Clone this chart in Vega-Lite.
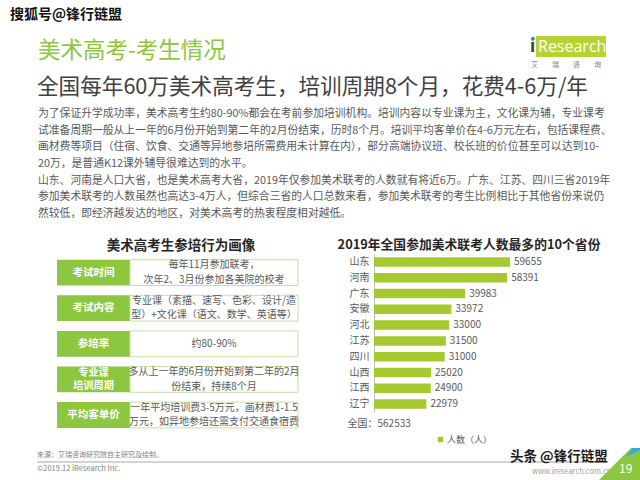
{
  "$schema": "https://vega.github.io/schema/vega-lite/v6.json",
  "background": "white",
  "padding": 0,
  "spacing": 0,
  "config": {
    "view": {"stroke": null},
    "font": "Noto Sans CJK SC",
    "text": {"font": "Noto Sans CJK SC"},
    "title": {"font": "Noto Sans CJK SC"},
    "axis": {"labelFont": "Noto Sans CJK SC", "titleFont": "Noto Sans CJK SC"},
    "legend": {"labelFont": "Noto Sans CJK SC"}
  },
  "vconcat": [
    {
      "width": 640,
      "height": 238,
      "data": {"values": [{}]},
      "layer": [
        {
          "mark": {"type": "text", "align": "left", "baseline": "middle", "fontSize": 14, "fontWeight": "bold", "color": "#111111"},
          "encoding": {
            "x": {"datum": 10, "type": "quantitative", "scale": {"domain": [0, 640], "nice": false, "zero": false}, "axis": null},
            "y": {"datum": 15, "type": "quantitative", "scale": {"domain": [0, 238], "nice": false, "zero": false, "reverse": true}, "axis": null},
            "text": {"value": "搜狐号@锋行链盟"}
          }
        },
        {
          "mark": {"type": "text", "align": "left", "baseline": "middle", "fontSize": 22.5, "color": "#8dc63f"},
          "encoding": {
            "x": {"datum": 38, "type": "quantitative"},
            "y": {"datum": 51, "type": "quantitative"},
            "text": {"value": "美术高考-考生情况"}
          }
        },
        {
          "mark": {"type": "text", "align": "left", "baseline": "middle", "fontSize": 21.6, "color": "#404040"},
          "encoding": {
            "x": {"datum": 37, "type": "quantitative"},
            "y": {"datum": 88, "type": "quantitative"},
            "text": {"value": "全国每年60万美术高考生，培训周期8个月，花费4-6万/年"}
          }
        },
        {
          "mark": {"type": "text", "align": "left", "baseline": "top", "fontSize": 10.8, "lineHeight": 16.68, "color": "#595959"},
          "encoding": {
            "x": {"datum": 38, "type": "quantitative"},
            "y": {"datum": 108, "type": "quantitative"},
            "text": {"value": [
              "为了保证升学成功率，美术高考生约80-90%都会在考前参加培训机构。培训内容以专业课为主，文化课为辅，专业课考",
              "试准备周期一般从上一年的6月份开始到第二年的2月份结束，历时8个月。培训平均客单价在4-6万元左右，包括课程费、",
              "画材费等项目（住宿、饮食、交通等异地参培所需费用未计算在内），部分高端协议班、校长班的价位甚至可以达到10-",
              "20万，是普通K12课外辅导很难达到的水平。",
              "山东、河南是人口大省，也是美术高考大省，2019年仅参加美术联考的人数就有将近6万。广东、江苏、四川三省2019年",
              "参加美术联考的人数虽然也高达3-4万人，但综合三省的人口总数来看，参加美术联考的考生比例相比于其他省份来说仍",
              "然较低，即经济越发达的地区，对美术高考的热衷程度相对越低。"
            ]}
          }
        },
        {
          "mark": {"type": "rect", "color": "#b5d334"},
          "encoding": {
            "x": {"datum": 536, "type": "quantitative"},
            "x2": {"datum": 606},
            "y": {"datum": 36, "type": "quantitative"},
            "y2": {"datum": 57}
          }
        },
        {
          "mark": {"type": "text", "align": "left", "baseline": "middle", "fontSize": 16, "font": "Open Sans", "color": "white"},
          "encoding": {
            "x": {"datum": 538, "type": "quantitative"},
            "y": {"datum": 47, "type": "quantitative"},
            "text": {"value": "Research"}
          }
        },
        {
          "mark": {"type": "text", "align": "left", "baseline": "middle", "fontSize": 17, "font": "Open Sans", "fontWeight": "bold", "color": "#3a3a3a"},
          "encoding": {
            "x": {"datum": 530, "type": "quantitative"},
            "y": {"datum": 47, "type": "quantitative"},
            "text": {"value": "i"}
          }
        },
        {
          "mark": {"type": "point", "filled": true, "size": 14, "color": "#2b8fd6", "opacity": 1},
          "encoding": {
            "x": {"datum": 533, "type": "quantitative"},
            "y": {"datum": 38.5, "type": "quantitative"}
          }
        },
        {
          "mark": {"type": "text", "align": "left", "baseline": "middle", "fontSize": 7, "color": "#808080"},
          "encoding": {
            "x": {"datum": 531, "type": "quantitative"},
            "y": {"datum": 64.5, "type": "quantitative"},
            "text": {"value": "艾　　瑞　　咨　　询"}
          }
        }
      ]
    },
    {
      "spacing": 37,
      "hconcat": [
        {
          "width": 300,
          "height": 193.4,
          "title": {"text": "美术高考生参培行为画像", "fontSize": 13.5, "fontWeight": "bold", "color": "#262626", "anchor": "middle", "dx": 31, "offset": 2},
          "data": {"values": [
            {"item": "考试时间", "desc": "每年11月参加联考，\n次年2、3月份参加各美院的校考"},
            {"item": "考试内容", "desc": "专业课（素描、速写、色彩、设计/造\n型）+文化课（语文、数学、英语等）"},
            {"item": "参培率", "desc": "约80-90%"},
            {"item": "专业课\n培训周期", "desc": "多从上一年的6月份开始到第二年的2月\n份结束，持续8个月"},
            {"item": "平均客单价", "desc": "一年平均培训费3-5万元，画材费1-1.5\n万元，如异地参培还需支付交通食宿费"}
          ]},
          "encoding": {
            "y": {"field": "item", "type": "nominal", "sort": null, "axis": null, "scale": {"paddingInner": 0.275, "paddingOuter": 0.354, "align": 0.226}}
          },
          "layer": [
            {
              "mark": {"type": "rect", "color": "#8dc63f"},
              "encoding": {
                "x": {"datum": 57, "type": "quantitative", "scale": {"domain": [0, 300], "nice": false, "zero": false}, "axis": null},
                "x2": {"datum": 130}
              }
            },
            {
              "mark": {"type": "rect", "fill": "white", "stroke": "#c6dfa6", "strokeWidth": 1},
              "encoding": {
                "x": {"datum": 130, "type": "quantitative"},
                "x2": {"datum": 298}
              }
            },
            {
              "transform": [{"filter": "indexof(datum.item, '\\n') < 0"}],
              "mark": {"type": "text", "color": "white", "fontWeight": "bold", "fontSize": 10.5},
              "encoding": {
                "x": {"datum": 93.5, "type": "quantitative"},
                "text": {"field": "item"}
              }
            },
            {
              "transform": [{"filter": "indexof(datum.item, '\\n') >= 0"}],
              "mark": {"type": "text", "color": "white", "fontWeight": "bold", "fontSize": 10.2, "lineBreak": "\n", "lineHeight": 13.5, "dy": -6.75},
              "encoding": {
                "x": {"datum": 93.5, "type": "quantitative"},
                "text": {"field": "item"}
              }
            },
            {
              "transform": [{"filter": "indexof(datum.desc, '\\n') < 0"}],
              "mark": {"type": "text", "color": "#595959", "fontSize": 10},
              "encoding": {
                "x": {"datum": 214, "type": "quantitative"},
                "text": {"field": "desc"}
              }
            },
            {
              "transform": [{"filter": "indexof(datum.desc, '\\n') >= 0"}],
              "mark": {"type": "text", "color": "#595959", "fontSize": 10, "lineBreak": "\n", "lineHeight": 14.5, "dy": -7.25},
              "encoding": {
                "x": {"datum": 214, "type": "quantitative"},
                "text": {"field": "desc"}
              }
            }
          ]
        },
        {
          "width": 228,
          "height": 158,
          "title": {"text": "2019年全国参加美术联考人数最多的10个省份", "fontSize": 12.8, "fontWeight": "bold", "color": "#262626", "anchor": "middle", "dx": -19, "offset": 2},
          "data": {"values": [
            {"province": "山东", "count": 59655},
            {"province": "河南", "count": 58391},
            {"province": "广东", "count": 39983},
            {"province": "安徽", "count": 33972},
            {"province": "河北", "count": 33000},
            {"province": "江苏", "count": 31500},
            {"province": "四川", "count": 31000},
            {"province": "山西", "count": 25020},
            {"province": "江西", "count": 24900},
            {"province": "辽宁", "count": 22979}
          ]},
          "encoding": {
            "y": {"field": "province", "type": "nominal", "sort": null, "scale": {"paddingInner": 0.4, "paddingOuter": 0.2},
                  "axis": {"title": null, "ticks": false, "labelFontSize": 10, "labelColor": "#595959", "labelPadding": 5, "domainColor": "#bfbfbf", "domainWidth": 1}},
            "x": {"field": "count", "type": "quantitative", "scale": {"domain": [0, 100000], "nice": false},
                  "axis": {"title": "全国：562533", "labels": false, "ticks": false, "domain": false, "grid": false, "titleAnchor": "start", "titleX": -27, "titleY": 11, "titleBaseline": "middle", "titleFontSize": 10, "titleFontWeight": "normal", "titleColor": "#595959"}}
          },
          "layer": [
            {
              "mark": {"type": "bar"},
              "encoding": {
                "color": {"datum": "人数（人）", "type": "nominal", "scale": {"range": ["#a6c932"]},
                          "legend": {"title": null, "orient": "none", "legendX": 436, "legendY": 435, "symbolType": "square", "symbolSize": 30, "labelFontSize": 9, "labelColor": "#595959", "labelOffset": 2}}
              }
            },
            {
              "mark": {"type": "text", "align": "left", "dx": 4, "fontSize": 10, "color": "#595959"},
              "encoding": {"text": {"field": "count", "type": "quantitative", "format": "d"}}
            }
          ]
        }
      ]
    },
    {
      "width": 640,
      "height": 33,
      "data": {"values": [{}]},
      "layer": [
        {
          "mark": {"type": "text", "align": "left", "baseline": "middle", "fontSize": 7, "color": "#7f7f7f"},
          "encoding": {
            "x": {"datum": 37, "type": "quantitative", "scale": {"domain": [0, 640], "nice": false, "zero": false}, "axis": null},
            "y": {"datum": 453.5, "type": "quantitative", "scale": {"domain": [447, 480], "nice": false, "zero": false, "reverse": true}, "axis": null},
            "text": {"value": "来源：艾瑞咨询研究院自主研究及绘制。"}
          }
        },
        {
          "mark": {"type": "rule", "color": "#a6a6a6", "strokeWidth": 1},
          "encoding": {
            "x": {"datum": 37, "type": "quantitative"},
            "x2": {"datum": 598},
            "y": {"datum": 461, "type": "quantitative"}
          }
        },
        {
          "mark": {"type": "text", "align": "left", "baseline": "middle", "fontSize": 7.5, "color": "#7f7f7f"},
          "encoding": {
            "x": {"datum": 37, "type": "quantitative"},
            "y": {"datum": 468, "type": "quantitative"},
            "text": {"value": "©2019.12 iResearch Inc."}
          }
        },
        {
          "mark": {"type": "text", "align": "left", "baseline": "middle", "fontSize": 7.5, "color": "#a0a0a0"},
          "encoding": {
            "x": {"datum": 532, "type": "quantitative"},
            "y": {"datum": 471, "type": "quantitative"},
            "text": {"value": "www.iresearch.com.cn"}
          }
        },
        {
          "mark": {"type": "point", "filled": true, "opacity": 1, "size": 1764, "shape": "M 1 -1 L 1 1 L -1 1 Z", "color": "#8dc63f", "clip": true},
          "encoding": {
            "x": {"datum": 619, "type": "quantitative"},
            "y": {"datum": 459, "type": "quantitative"}
          }
        },
        {
          "mark": {"type": "point", "filled": true, "opacity": 1, "size": 400, "shape": "M -0.4 1 L 1 -1 L 1 0.3 Z", "color": "#3aa6dd", "clip": true},
          "encoding": {
            "x": {"datum": 630, "type": "quantitative"},
            "y": {"datum": 446, "type": "quantitative"}
          }
        },
        {
          "mark": {"type": "text", "align": "left", "baseline": "middle", "fontSize": 12, "color": "white"},
          "encoding": {
            "x": {"datum": 619, "type": "quantitative"},
            "y": {"datum": 468, "type": "quantitative"},
            "text": {"value": "19"}
          }
        },
        {
          "mark": {"type": "text", "align": "left", "baseline": "middle", "fontSize": 13.5, "fontWeight": "bold", "color": "#1a1a1a"},
          "encoding": {
            "x": {"datum": 510, "type": "quantitative"},
            "y": {"datum": 455.5, "type": "quantitative"},
            "text": {"value": "头条 @锋行链盟"}
          }
        }
      ]
    }
  ]
}
